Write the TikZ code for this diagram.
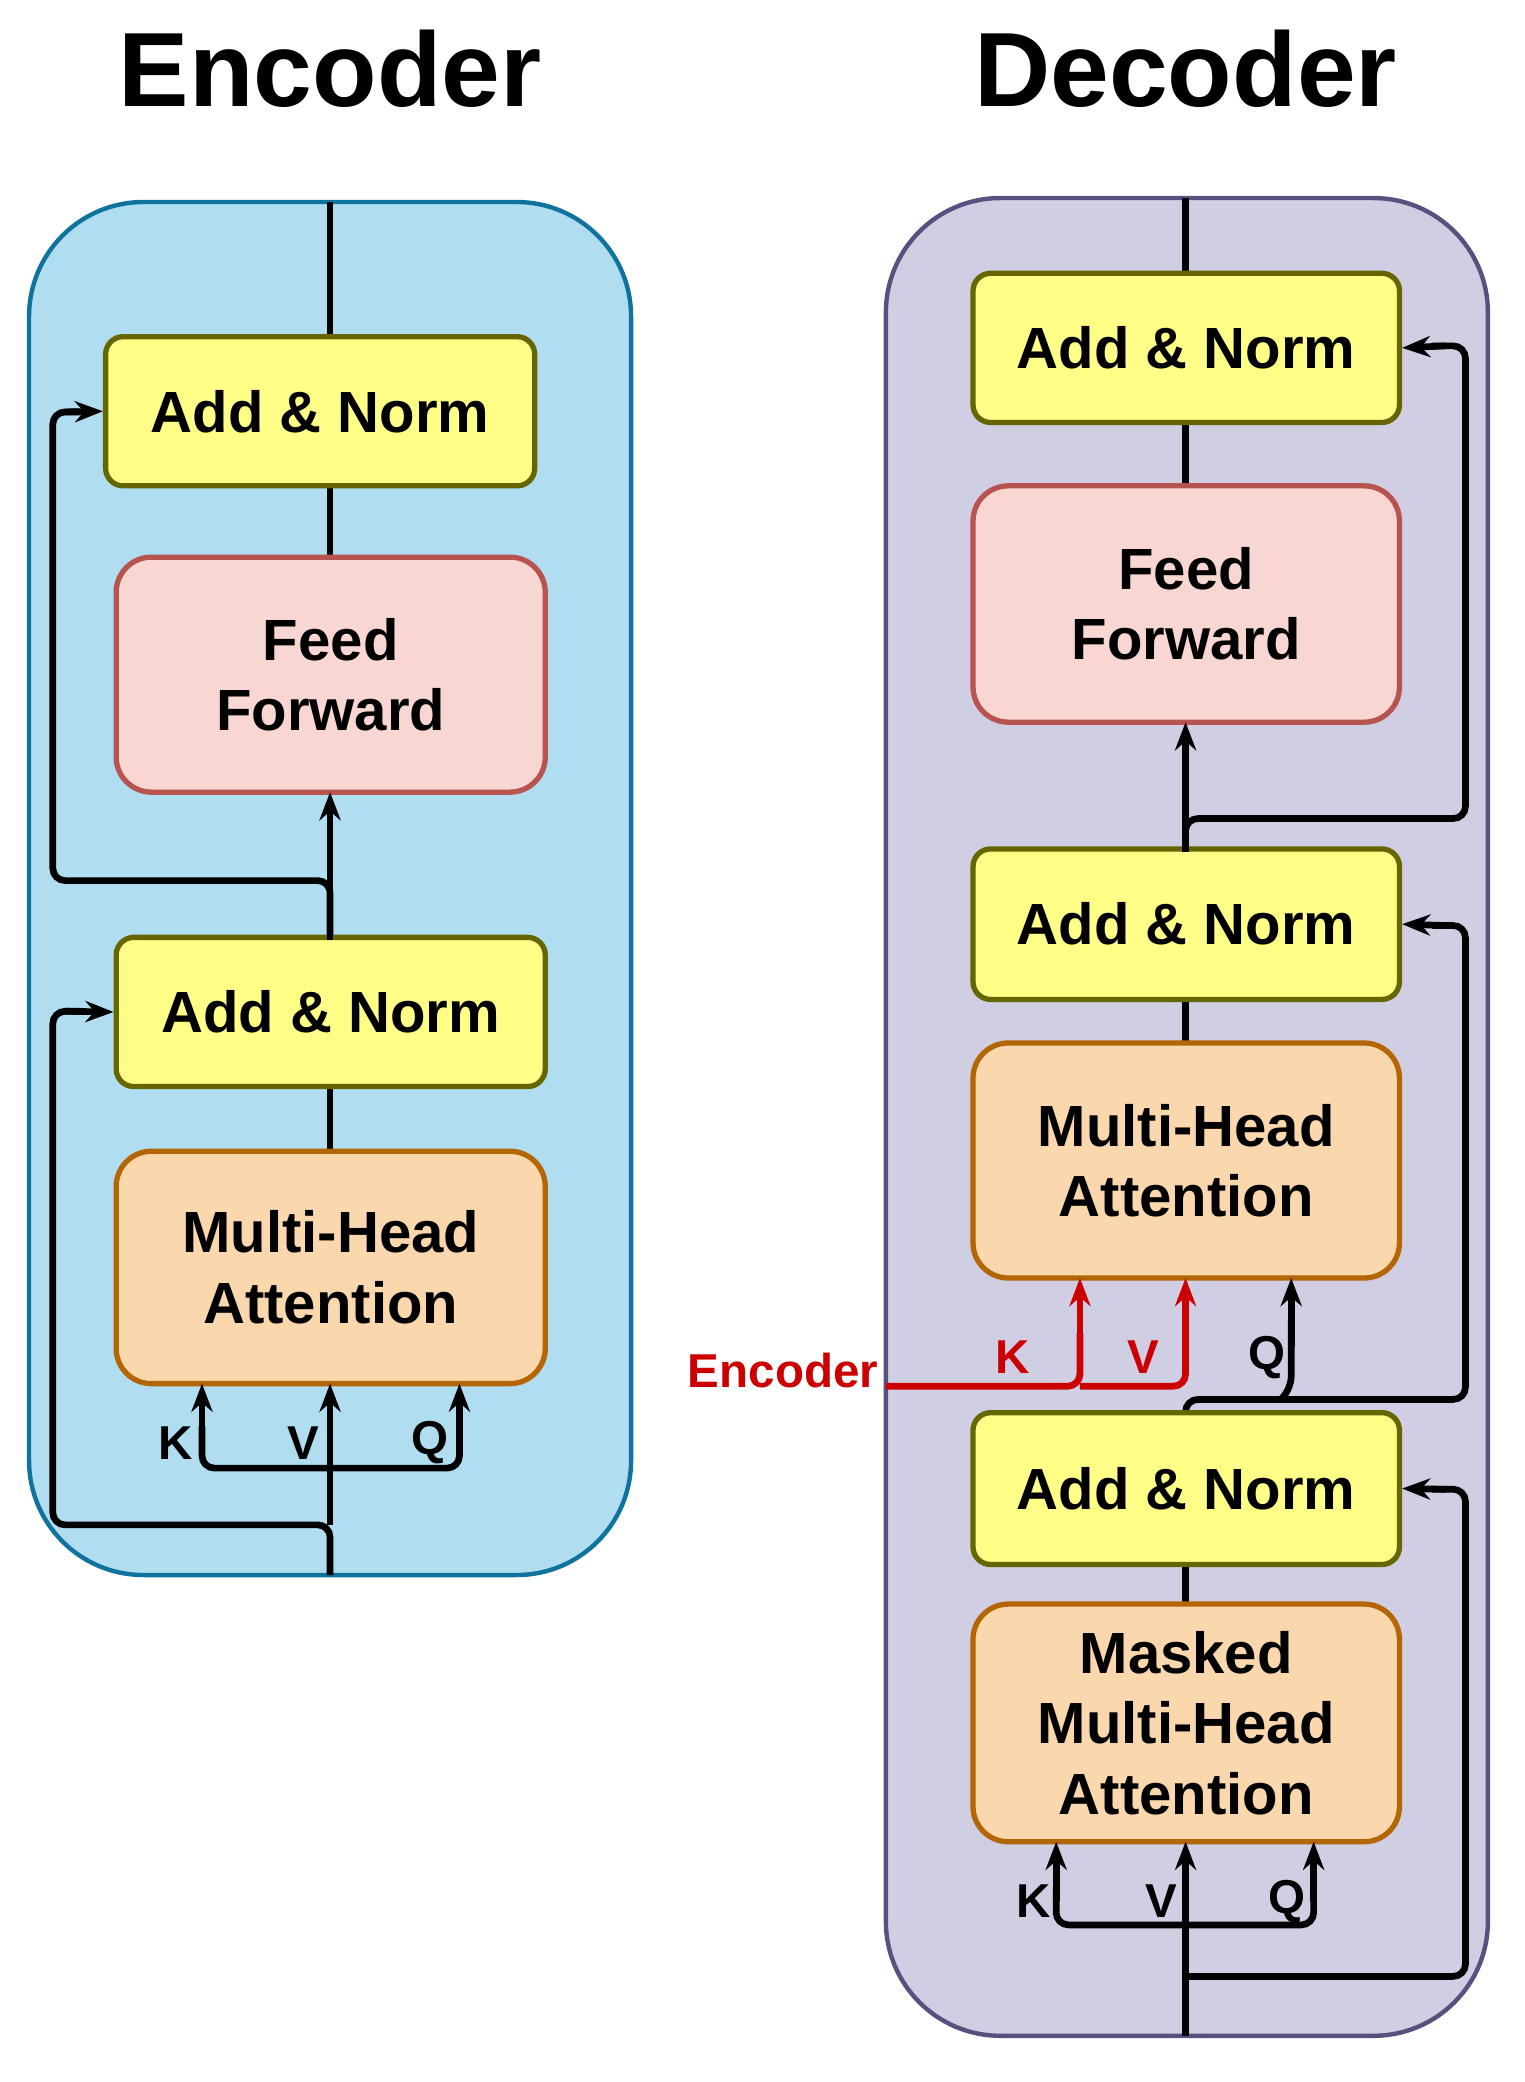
\documentclass[tikz,border=0pt]{standalone}
\usepackage{fontspec}
\setmainfont{Liberation Sans}
\usetikzlibrary{arrows.meta}
\definecolor{encfill}{HTML}{B1DDF0}\definecolor{encdraw}{HTML}{10739E}
\definecolor{decfill}{HTML}{D0CEE2}\definecolor{decdraw}{HTML}{56517E}
\definecolor{anfill}{HTML}{FFFF88}\definecolor{andraw}{HTML}{666600}
\definecolor{fffill}{HTML}{F8D7D3}\definecolor{ffdraw}{HTML}{B85450}
\definecolor{mhfill}{HTML}{FAD7AC}\definecolor{mhdraw}{HTML}{B46504}
\definecolor{encred}{HTML}{CC0000}
\begin{document}
\begin{tikzpicture}[x=0.75pt,y=-0.75pt,
 box/.style={draw,line width=3pt,align=center,font=\fontsize{33}{40}\selectfont\bfseries,inner sep=0pt},
 an/.style={box,fill=anfill,draw=andraw,rounded corners=10pt},
 ff/.style={box,fill=fffill,draw=ffdraw,rounded corners=20pt},
 mh/.style={box,fill=mhfill,draw=mhdraw,rounded corners=20pt},
 ln/.style={line width=3.8pt,rounded corners=7pt},
 ar/.style={line width=3.8pt,-{Stealth[length=16pt,width=12pt]}},
 lab/.style={font=\fontsize{27}{30}\selectfont\bfseries},
 ttl/.style={font=\fontsize{60}{70}\selectfont\bfseries}]
\useasboundingbox (0,0) rectangle (1155,1577);
% titles
\node[ttl] (tE) at (250,52) {Encoder};
\node[ttl] (tD) at (898,52) {Decoder};
% containers
\draw[fill=encfill,draw=encdraw,line width=2.5pt,rounded corners=65pt] (22,153) rectangle (478,1193);
\draw[fill=decfill,draw=decdraw,line width=2.5pt,rounded corners=65pt] (671,150) rectangle (1127,1542);
% encoder coordinates
\coordinate (eTop) at (250,153);
\coordinate (eBot) at (250,1193);
\coordinate (eJ1) at (250,667);
\coordinate (eJ2) at (250,1155);
% encoder lines (drawn before boxes)
\draw[ln] (eTop) -- (250,260);
\draw[ln] (250,360) -- (250,430);
\draw[ln] (250,815) -- (250,880);
\draw[ln] (250,720) -- (eJ1) -- (40,667) -- (40,312) -- (60,312);
\draw[ln] (eBot) -- (eJ2) -- (40,1155) -- (40,766) -- (60,766);
\draw[ln] (250,1112) -- (153,1112) -- (153,1080);
\draw[ln] (250,1112) -- (348,1112) -- (348,1080);
% encoder boxes
\node[an,minimum width=325pt*0.75,minimum height=113pt*0.75] (eAN2) at (242.5,311.5) {Add \& Norm};
\node[ff,minimum width=325pt*0.75,minimum height=178pt*0.75] (eFF) at (250.5,511) {Feed\\Forward};
\node[an,minimum width=325pt*0.75,minimum height=113pt*0.75] (eAN1) at (250.5,766.5) {Add \& Norm};
\node[mh,minimum width=325pt*0.75,minimum height=176pt*0.75] (eMH) at (250.5,960) {Multi-Head\\Attention};
\draw[ar] (250,712) -- (250,600);
\draw[ar] (50,312) -- (eAN2.west);
\draw[ar] (50,766) -- (eAN1.west);
\draw[ar] (eJ2) -- (250,1048);
\draw[ar] (153,1090) -- (153,1048);
\draw[ar] (348,1090) -- (348,1048);
\node[lab] (eK) at (133,1093) {K};
\node[lab] (eV) at (230,1093) {V};
\node[lab] (eQ) at (326,1093) {Q};
% decoder lines
\draw[ln] (898,150) -- (898,215);
\draw[ln] (898,310) -- (898,375);
\draw[ln] (898,750) -- (898,800);
\draw[ln] (898,1178) -- (898,1222);
\draw[ln] (898,645) -- (898,620) -- (1110,620) -- (1110,262) -- (1085,262);
\draw[ln] (898,1075) -- (898,1060) -- (1110,1060) -- (1110,701) -- (1085,701);
\draw[ln] (898,1497) -- (1110,1497) -- (1110,1128) -- (1085,1128);
\draw[ln] (898,1458) -- (800,1458) -- (800,1430);
\draw[ln] (898,1458) -- (995,1458) -- (995,1430);
\draw[ln] (970,1060) -- (978,1052) -- (978,1000);
% decoder boxes
\node[an,minimum width=323pt*0.75,minimum height=113pt*0.75] (dAN3) at (898.5,263.5) {Add \& Norm};
\node[ff,minimum width=323pt*0.75,minimum height=179pt*0.75] (dFF) at (898.5,457.5) {Feed\\Forward};
\node[an,minimum width=323pt*0.75,minimum height=114pt*0.75] (dAN2) at (898.5,700) {Add \& Norm};
\node[mh,minimum width=323pt*0.75,minimum height=178pt*0.75] (dMH) at (898.5,879) {Multi-Head\\Attention};
\node[an,minimum width=323pt*0.75,minimum height=115pt*0.75] (dAN1) at (898.5,1127.5) {Add \& Norm};
\node[mh,minimum width=323pt*0.75,minimum height=180pt*0.75] (dMM) at (898.5,1305) {Masked\\Multi-Head\\Attention};
\draw[ar] (898,645) -- (898,547);
\draw[ar] (1095,262) -- (dAN3.east);
\draw[ar] (1095,701) -- (dAN2.east);
\draw[ar] (1095,1128) -- (dAN1.east);
\draw[ar] (978,1020) -- (978,968);
\draw[ar] (898,1542) -- (898,1395);
\draw[ar] (800,1440) -- (800,1395);
\draw[ar] (995,1440) -- (995,1395);
\node[lab] (dK) at (783,1440) {K};
\node[lab] (dV) at (880,1440) {V};
\node[lab] (dQ) at (975,1440) {Q};
% encoder input to decoder
\node[lab,text=encred,anchor=east,inner sep=2pt] (encIn) at (668,1038) {Encoder};
\coordinate (eIn) at (671,1050);
\draw[ln,draw=encred] (eIn) -- (818,1050) -- (818,1010);
\draw[ln,draw=encred] (818,1050) -- (898,1050) -- (898,1010);
\draw[ar,draw=encred,fill=encred] (818,1020) -- (818,968);
\draw[ar,draw=encred,fill=encred] (898,1020) -- (898,968);
\node[lab,text=encred] (rK) at (767,1028) {K};
\node[lab,text=encred] (rV) at (866,1028) {V};
\node[lab] (dQ2) at (960,1028) {Q};
\end{tikzpicture}
\end{document}
